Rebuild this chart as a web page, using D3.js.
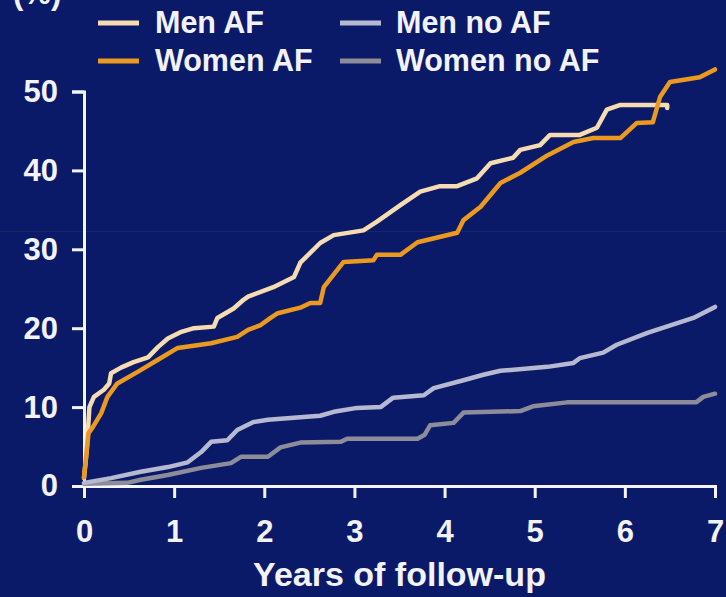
<!DOCTYPE html>
<html>
<head>
<meta charset="utf-8">
<script src="https://cdn.jsdelivr.net/npm/d3@7"></script>
<style>
  html, body { margin: 0; padding: 0; background: #0a1a68; }
  svg { display: block; }
  text { font-family: "Liberation Sans", Arial, sans-serif; font-weight: bold; fill: #f2f2f8; }
</style>
</head>
<body>
<svg id="chart" width="726" height="597"></svg>
<script>
// ---- data (years of follow-up, cumulative %) ----
const menAfT   = [0, 0.03, 0.06, 0.11, 0.22, 0.28, 0.30, 0.41, 0.55, 0.71, 0.82, 0.93, 1.07, 1.22, 1.44, 1.48, 1.66, 1.77, 1.82, 2.10, 2.33, 2.40, 2.62, 2.77, 3.10, 3.25, 3.51, 3.73, 3.95, 4.14, 4.36, 4.51, 4.76, 4.84, 5.06, 5.17, 5.50, 5.69, 5.80, 5.95, 6.47, 6.47];
const menAfV   = [1.0, 4.5, 10.0, 11.3, 12.2, 13.0, 14.3, 15.0, 15.7, 16.3, 17.6, 18.7, 19.5, 20.0, 20.2, 21.3, 22.5, 23.6, 24.0, 25.2, 26.5, 28.3, 30.8, 31.8, 32.4, 33.5, 35.6, 37.3, 38.0, 38.0, 39.0, 40.9, 41.6, 42.6, 43.2, 44.5, 44.5, 45.4, 47.7, 48.3, 48.3, 47.9];

const womenAfT = [0, 0.05, 0.10, 0.19, 0.26, 0.37, 0.60, 0.82, 1.04, 1.41, 1.70, 1.82, 1.96, 2.07, 2.15, 2.40, 2.51, 2.62, 2.66, 2.88, 3.21, 3.25, 3.51, 3.70, 4.14, 4.21, 4.40, 4.62, 4.84, 5.14, 5.43, 5.65, 5.95, 6.13, 6.31, 6.39, 6.50, 6.83, 7.00];
const womenAfV = [1.1, 6.7, 7.5, 9.2, 11.3, 13.0, 14.5, 16.0, 17.5, 18.1, 18.9, 19.8, 20.4, 21.3, 21.9, 22.6, 23.2, 23.2, 25.2, 28.4, 28.6, 29.3, 29.3, 30.9, 32.1, 33.7, 35.4, 38.4, 39.7, 41.9, 43.6, 44.1, 44.1, 46.0, 46.1, 49.3, 51.2, 51.8, 52.8];

const menNoT   = [0, 0.30, 0.63, 0.93, 1.15, 1.30, 1.41, 1.59, 1.70, 1.88, 2.04, 2.40, 2.62, 2.77, 3.03, 3.29, 3.43, 3.77, 3.88, 4.21, 4.43, 4.62, 5.14, 5.43, 5.50, 5.76, 5.91, 6.25, 6.76, 7.00];
const menNoV   = [0.4, 1.0, 1.8, 2.4, 3.0, 4.3, 5.6, 5.8, 7.1, 8.1, 8.4, 8.7, 8.9, 9.4, 9.9, 10.0, 11.2, 11.5, 12.4, 13.4, 14.1, 14.6, 15.1, 15.6, 16.2, 16.9, 17.9, 19.4, 21.3, 22.7];

const womenNoT = [0, 0.48, 0.63, 0.93, 1.30, 1.63, 1.74, 2.04, 2.18, 2.40, 2.85, 2.92, 3.70, 3.78, 3.84, 4.10, 4.21, 4.84, 4.98, 5.36, 6.79, 6.87, 7.00];
const womenNoV = [0.3, 0.4, 0.8, 1.4, 2.3, 2.9, 3.7, 3.7, 4.9, 5.5, 5.6, 6.0, 6.0, 6.5, 7.7, 8.0, 9.3, 9.5, 10.1, 10.6, 10.6, 11.3, 11.7];

const seriesNames = ["Men AF", "Women AF", "Men no AF", "Women no AF"];
const seriesColors = ["#f6dcb0", "#eb9a1f", "#b7b9d0", "#8c8d98"];
const xTicks = [0, 1, 2, 3, 4, 5, 6, 7];
const yTicks = [0, 10, 20, 30, 40, 50];
const xTitle = "Years of follow-up";
const yTitle = "(%)";

const series = [
  { name: seriesNames[0], color: seriesColors[0], t: menAfT, v: menAfV },
  { name: seriesNames[1], color: seriesColors[1], t: womenAfT, v: womenAfV },
  { name: seriesNames[2], color: seriesColors[2], t: menNoT, v: menNoV },
  { name: seriesNames[3], color: seriesColors[3], t: womenNoT, v: womenNoV }
];

// ---- layout ----
const svg = d3.select("#chart");
const W = 726, H = 597;
svg.append("rect").attr("width", W).attr("height", H).attr("fill", "#0a1a68");
// faint scan seam seen in the reference
svg.append("line").attr("x1", 0).attr("x2", W).attr("y1", 231.5).attr("y2", 231.5)
  .attr("stroke", "#1a2568").attr("stroke-width", 1);

const x = d3.scaleLinear().domain([0, 7]).range([84, 715]);
const y = d3.scaleLinear().domain([0, 50]).range([486, 91.5]);

const axisColor = "#f4f4fa";

const gx = svg.append("g").attr("transform", `translate(0,${y(0)})`)
  .call(d3.axisBottom(x).tickValues(xTicks).tickSize(12).tickPadding(22).tickFormat(d3.format("d")));
const gy = svg.append("g").attr("transform", `translate(${x(0)},0)`)
  .call(d3.axisLeft(y).tickValues(yTicks).tickSize(12).tickPadding(14).tickFormat(d3.format("d")));

[gx, gy].forEach(g => {
  g.selectAll("path.domain").attr("stroke", axisColor).attr("stroke-width", 3);
  g.selectAll(".tick line").attr("stroke", axisColor).attr("stroke-width", 3);
  g.selectAll(".tick text").attr("fill", "#f2f2f8")
    .style("font-family", '"Liberation Sans", Arial, sans-serif')
    .style("font-weight", "bold").style("font-size", "31px");
});

// ---- lines ----
const line = d3.line().x(d => x(d[0])).y(d => y(d[1])).curve(d3.curveLinear);
const plot = svg.append("g");
// draw grays first, then AF lines on top
[3, 2, 0, 1].forEach(i => {
  const s = series[i];
  const pts = s.t.map((t, k) => [t, s.v[k]]);
  plot.append("path").datum(pts)
    .attr("d", line)
    .attr("fill", "none")
    .attr("stroke", s.color)
    .attr("stroke-width", 4.5)
    .attr("stroke-linejoin", "round")
    .attr("stroke-linecap", "round");
});

// ---- titles ----
svg.append("text").attr("x", x(3.5)).attr("y", 586)
  .attr("text-anchor", "middle").style("font-size", "34px").text(xTitle);
svg.append("text").attr("x", 13).attr("y", 4)
  .style("font-size", "31px").text(yTitle);

// ---- legend ----
const legendPos = [
  { sx: 98, tx: 155, by: 33 },
  { sx: 98, tx: 155, by: 71 },
  { sx: 340, tx: 396, by: 33 },
  { sx: 340, tx: 396, by: 71 }
];
series.forEach((s, i) => {
  const p = legendPos[i];
  const g = svg.append("g");
  g.append("line").attr("x1", p.sx).attr("x2", p.sx + 41)
    .attr("y1", p.by - 10).attr("y2", p.by - 10)
    .attr("stroke", s.color).attr("stroke-width", 5);
  g.append("text").attr("x", p.tx).attr("y", p.by)
    .style("font-size", "30.5px").text(s.name);
});
</script>
</body>
</html>
